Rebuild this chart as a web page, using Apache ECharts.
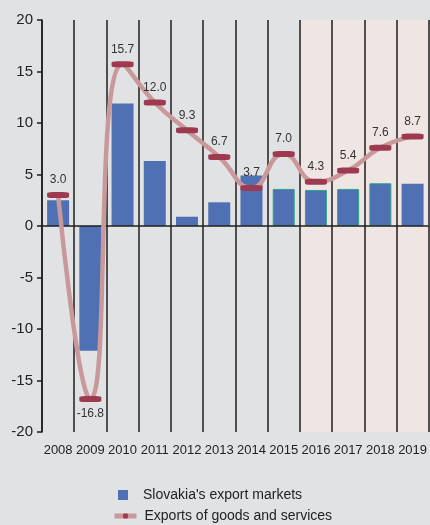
<!DOCTYPE html>
<html>
<head>
<meta charset="utf-8">
<script src="https://cdn.jsdelivr.net/npm/echarts@6/dist/echarts.min.js"></script>
<style>
  html, body { margin: 0; padding: 0; background: #e1e2e4; }
  #chartBox { width: 430px; height: 525px; }
</style>
</head>
<body>
<div id="chartBox"></div>
<script>
const years = ["2008", "2009", "2010", "2011", "2012", "2013", "2014", "2015", "2016", "2017", "2018", "2019"];
const exportMarkets = [2.5, -12.1, 11.9, 6.3, 0.9, 2.3, 4.9, 3.6, 3.5, 3.6, 4.15, 4.1];
const exportsGoods = [3.0, -16.8, 15.7, 12.0, 9.3, 6.7, 3.7, 7.0, 4.3, 5.4, 7.6, 8.7];
const yTicks = [-20, -15, -10, -5, 0, 5, 10, 15, 20];
const projectionYears = ["2016", "2019"];
const borderedYears = ["2015", "2016", "2017", "2018"];

const font = "'Liberation Sans', Arial, sans-serif";

const chartDom = document.getElementById("chartBox");
const myChart = echarts.init(chartDom);

const barData = exportMarkets.map((v, i) => {
  if (borderedYears.includes(years[i])) {
    return { value: v, itemStyle: { borderColor: "#2ba58c", borderWidth: 1 } };
  }
  return v;
});

const lineData = exportsGoods.map((v) => ({
  value: v,
  label: { position: v < 0 ? "bottom" : "top" },
}));

const option = {
  backgroundColor: "#e1e2e4",
  animation: false,
  grid: { left: 42, right: 0, top: 20, bottom: 93 },
  legend: [
    {
      orient: "vertical",
      left: 118,
      top: 488,
      padding: 0,
      itemWidth: 10,
      itemHeight: 10,
      data: [{ name: "Slovakia's export markets", icon: "rect" }],
      textStyle: { fontFamily: font, fontSize: 14, color: "#222", padding: [0, 0, 0, 10] },
    },
    {
      orient: "vertical",
      left: 112,
      top: 509,
      padding: 0,
      itemWidth: 22,
      itemHeight: 6,
      data: ["Exports of goods and services"],
      lineStyle: { width: 5 },
      textStyle: { fontFamily: font, fontSize: 14, color: "#222", padding: [0, 0, 0, 3] },
    },
  ],
  xAxis: {
    type: "category",
    data: years,
    z: 3,
    axisLine: { onZero: false, show: false },
    axisTick: { show: false },
    axisLabel: { interval: 0, fontFamily: font, fontSize: 13, color: "#222", margin: 12 },
    splitLine: { show: true, interval: 0, lineStyle: { color: "#1e1e1e", width: 1.5 } },
  },
  yAxis: {
    type: "value",
    min: yTicks[0],
    max: yTicks[yTicks.length - 1],
    interval: 5,
    z: 3,
    axisLine: { show: true, lineStyle: { color: "#1e1e1e", width: 1.5 } },
    axisTick: { show: true, length: 5, lineStyle: { color: "#1e1e1e", width: 1.5 } },
    axisLabel: { fontFamily: font, fontSize: 15, color: "#222", margin: 9 },
    splitLine: { show: false },
  },
  series: [
    {
      name: "Slovakia's export markets",
      type: "bar",
      data: barData,
      barWidth: 22,
      z: 2,
      itemStyle: { color: "#4f71b4" },
      markArea: {
        silent: true,
        itemStyle: { color: "#efe6e4" },
        data: [[{ xAxis: projectionYears[0] }, { xAxis: projectionYears[1] }]],
      },
      markLine: {
        silent: true,
        symbol: "none",
        label: { show: false },
        lineStyle: { color: "#1e1e1e", width: 1.5, type: "solid" },
        data: [{ yAxis: 0 }],
      },
    },
    {
      name: "Exports of goods and services",
      type: "line",
      data: lineData,
      smooth: true,
      z: 5,
      symbol: "roundRect",
      symbolSize: [22, 6],
      lineStyle: { color: "#c9989b", width: 4.5 },
      itemStyle: { color: "#9d3a50" },
      label: {
        show: true,
        formatter: (p) => p.value.toFixed(1),
        fontFamily: font,
        fontSize: 12,
        color: "#333",
        distance: 6,
      },
    },
  ],
};
myChart.setOption(option);
</script>
</body>
</html>
